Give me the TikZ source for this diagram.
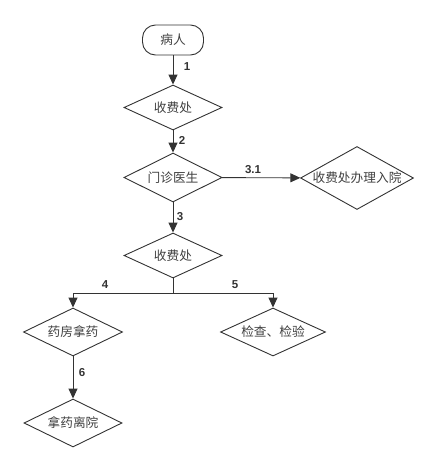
\documentclass[tikz,border=0pt]{standalone}
\usepackage{fontspec}
\setmainfont{Noto Sans CJK SC}
\newfontfamily\numfont{Liberation Sans}
\usetikzlibrary{shapes.geometric,arrows.meta}
\definecolor{ln}{HTML}{333333}
\definecolor{tx}{HTML}{404040}
\tikzset{
  x=1pt,y=-1pt,
  dia/.style={shape=diamond,draw=ln,line width=0.9pt,inner sep=0pt,text=tx,font=\fontsize{12.7}{14}\selectfont},
  term/.style={draw=ln,line width=0.9pt,rounded corners=13pt,minimum width=61pt,minimum height=30pt,inner sep=0pt,text=tx,font=\fontsize{12.7}{14}\selectfont},
  arr/.style={draw=ln,line width=0.9pt,-{Triangle[length=10pt,width=9pt]}},
  plain/.style={draw=ln,line width=0.9pt},
  lab/.style={text=ln,font=\numfont\bfseries\fontsize{11.5}{13}\selectfont,inner sep=0pt}
}
\newcommand{\zt}[1]{\makebox[0pt]{#1}}
\begin{document}
\begin{tikzpicture}
\useasboundingbox (0,0) rectangle (437,471);
\node[term] (start) at (173,40) {病人};
\node[dia,minimum width=98pt,minimum height=45pt] (c1) at (173,107.5) {\zt{收费处}};
\node[dia,minimum width=98pt,minimum height=49pt] (door) at (173,177.5) {\zt{门诊医生}};
\node[dia,minimum width=113pt,minimum height=63pt] (inp) at (357,178) {\zt{收费处办理入院}};
\node[dia,minimum width=98pt,minimum height=45pt] (c2) at (173,255.5) {\zt{收费处}};
\node[dia,minimum width=99pt,minimum height=48pt] (ph) at (73,332) {\zt{药房拿药}};
\node[dia,minimum width=105pt,minimum height=48pt] (ex) at (273,332) {\zt{检查、检验}};
\node[dia,minimum width=98pt,minimum height=48pt] (out) at (73,423) {\zt{拿药离院}};
\coordinate (j) at (173,293);

\draw[arr] (start) -- (c1);
\node[lab] (l1) at (187,67) {1};
\draw[arr] (c1) -- (door);
\node[lab] (l2) at (182,140) {2};
\draw[arr] (door) -- (inp);
\node[lab] (l31) at (253,170) {3.1};
\draw[arr] (door) -- (c2);
\node[lab] (l3) at (180,217) {3};
\draw[plain] (c2) -- (j);
\draw[arr] (j) -| (ph);
\draw[arr] (j) -| (ex);
\node[lab] (l4) at (105,285) {4};
\node[lab] (l5) at (235,285) {5};
\draw[arr] (ph) -- (out);
\node[lab] (l6) at (82,373) {6};
\end{tikzpicture}
\end{document}
